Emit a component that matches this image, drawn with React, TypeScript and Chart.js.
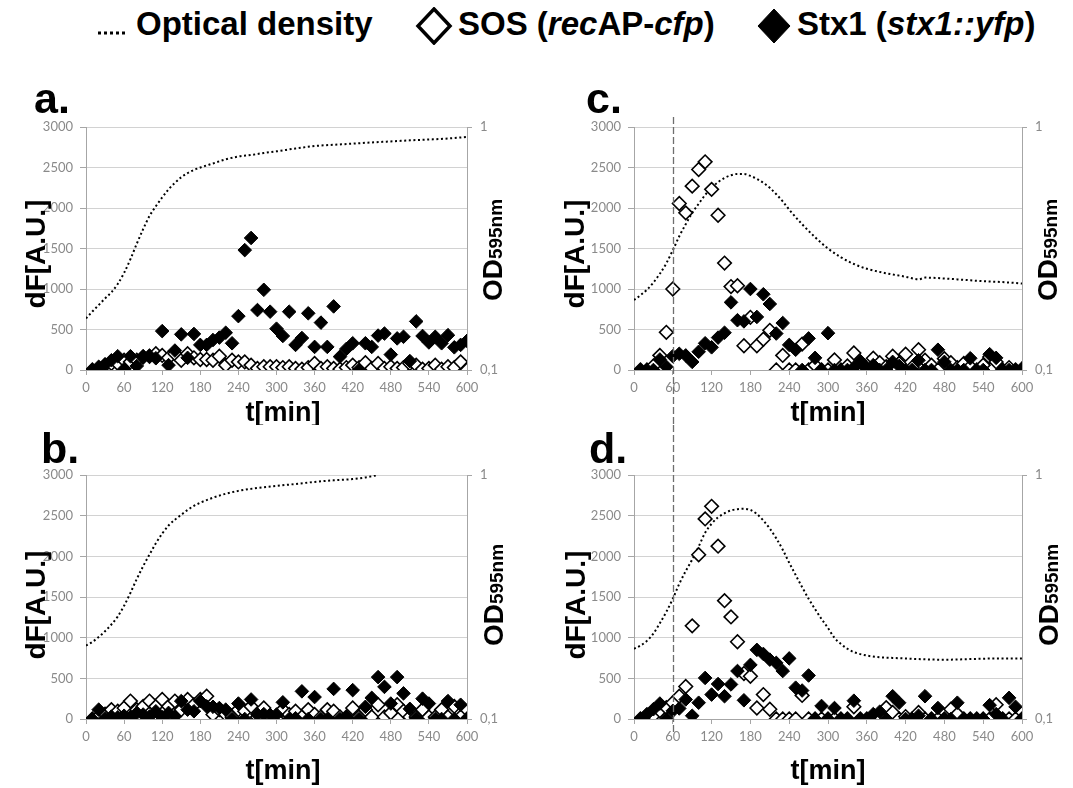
import React, { useEffect, useRef } from 'react';
import { Chart, registerables } from 'chart.js';

Chart.register(...registerables);

// ---------- data ----------
const TIME = [10, 20, 30, 40, 50, 60, 70, 80, 90, 100, 110, 120, 130, 140, 150, 160, 170, 180, 190, 200,
  210, 220, 230, 240, 250, 260, 270, 280, 290, 300, 310, 320, 330, 340, 350, 360, 370, 380, 390, 400,
  410, 420, 430, 440, 450, 460, 470, 480, 490, 500, 510, 520, 530, 540, 550, 560, 570, 580, 590, 600];

const A_STX = [0, 40, 70, 120, 170, 10, 170, 50, 170, 175, 145, 480, 60, 240, 440, 150, 445, 310, 310, 370,
  400, 460, 330, 665, 1480, 1630, 740, 990, 720, 510, 420, 720, 310, 395, 700, 285, 585, 285, 785, 165,
  260, 330, 0, 330, 285, 425, 450, 190, 390, 410, 110, 600, 420, 340, 410, 330, 430, 280, 310, 360];
const A_SOS = [0, 20, 60, 80, 80, 120, 100, 120, 160, 170, 200, 180, 150, 200, 120, 200, 150, 130, 130, 120,
  170, 60, 120, 100, 100, 60, 20, 40, 40, 40, 30, 40, 20, 10, 30, 80, 20, 40, 20, 10,
  30, 60, 30, 90, 20, 80, 20, 40, 20, 30, 80, 60, 10, 20, 60, 10, 40, 30, 100, 0];
const A_OD_T = [0, 10, 20, 30, 40, 50, 60, 70, 80, 90, 100, 110, 120, 130, 140, 150, 160, 170, 180, 200,
  220, 240, 260, 280, 300, 330, 360, 390, 420, 450, 480, 510, 540, 570, 600];
const A_OD = [0.163, 0.174, 0.185, 0.197, 0.209, 0.226, 0.251, 0.286, 0.331, 0.380, 0.430, 0.472, 0.513, 0.554,
  0.589, 0.621, 0.646, 0.666, 0.681, 0.708, 0.736, 0.756, 0.767, 0.782, 0.794, 0.816, 0.835, 0.845, 0.854,
  0.864, 0.872, 0.881, 0.888, 0.897, 0.910];

const B_STX = [0, 115, 10, 30, 20, 40, 20, 75, 55, 30, 95, 20, 75, 30, 220, 115, 95, 220, 155, 150,
  135, 115, 0, 190, 0, 240, 55, 60, 50, 55, 205, 0, 10, 340, 0, 270, 0, 0, 370, 0,
  20, 355, 0, 150, 260, 515, 395, 190, 515, 315, 125, 10, 250, 190, 0, 0, 220, 0, 175, 0];
const B_SOS = [0, 30, 60, 115, 95, 135, 220, 115, 155, 220, 155, 240, 155, 220, 115, 240, 175, 240, 280, 55,
  115, 55, 25, 115, 95, 155, 25, 135, 25, 0, 115, 55, 95, 25, 115, 55, 25, 115, 95, 25,
  25, 135, 25, 115, 25, 175, 25, 75, 175, 95, 25, 25, 115, 25, 25, 115, 25, 155, 25, 0];
const B_OD_T = [0, 10, 20, 30, 40, 50, 60, 70, 80, 90, 100, 110, 120, 130, 140, 150, 160, 170, 180, 200,
  220, 240, 270, 300, 330, 360, 390, 420, 440, 460];
const B_OD = [0.200, 0.207, 0.217, 0.229, 0.244, 0.263, 0.291, 0.329, 0.375, 0.423, 0.472, 0.525, 0.575, 0.621,
  0.656, 0.687, 0.719, 0.747, 0.770, 0.807, 0.838, 0.861, 0.885, 0.902, 0.919, 0.937, 0.951, 0.962, 0.977, 1.0];

const C_STX = [0, 0, 0, 130, 40, 170, 200, 180, 100, 225, 330, 280, 400, 460, 835, 615, 600, 1000, 655, 935,
  815, 450, 580, 310, 250, 0, 390, 150, 0, 455, 0, 0, 0, 30, 110, 20, 60, 0, 0, 100,
  50, 0, 0, 120, 0, 0, 250, 100, 0, 0, 0, 145, 0, 0, 195, 150, 0, 0, 0, 20];
const C_SOS = [0, 0, 50, 180, 465, 1000, 2055, 1940, 2270, 2475, 2570, 2230, 1910, 1320, 1030, 1040, 300, 650, 300, 380,
  490, 0, 180, 0, 0, 320, 0, 60, 0, 0, 125, 0, 50, 210, 60, 20, 145, 90, 40, 170,
  80, 195, 30, 250, 120, 60, 0, 140, 90, 30, 80, 40, 0, 60, 160, 100, 0, 30, 0, 0];
const C_OD_T = [0, 10, 20, 30, 40, 50, 60, 70, 80, 90, 100, 110, 120, 130, 140, 150, 160, 170, 180, 190,
  200, 210, 220, 230, 240, 260, 280, 300, 320, 340, 360, 390, 420, 440, 450, 480, 510, 540, 570, 600];
const C_OD = [0.194, 0.203, 0.214, 0.229, 0.249, 0.275, 0.311, 0.355, 0.398, 0.443, 0.483, 0.525, 0.562, 0.593,
  0.617, 0.633, 0.641, 0.641, 0.629, 0.612, 0.589, 0.562, 0.529, 0.494, 0.457, 0.398, 0.352, 0.316, 0.291,
  0.273, 0.261, 0.250, 0.242, 0.236, 0.240, 0.238, 0.235, 0.232, 0.230, 0.227];

const D_STX = [0, 60, 120, 190, 0, 100, 130, 240, 40, 200, 505, 300, 430, 280, 425, 590, 230, 665, 850, 800,
  730, 690, 590, 745, 385, 350, 535, 0, 160, 0, 135, 0, 0, 225, 0, 0, 60, 90, 0, 280,
  200, 0, 0, 40, 280, 0, 135, 0, 0, 200, 0, 0, 0, 0, 170, 60, 0, 260, 150, 0];
const D_SOS = [0, 0, 40, 100, 140, 200, 280, 400, 1145, 2020, 2460, 2615, 2125, 1455, 1255, 950, 560, 525, 135, 300,
  120, 0, 0, 0, 0, 290, 0, 0, 0, 0, 0, 0, 0, 150, 0, 0, 0, 30, 140, 80,
  0, 30, 0, 80, 0, 0, 0, 0, 120, 60, 0, 0, 0, 0, 0, 175, 0, 0, 0, 0];
const D_OD_T = [0, 10, 20, 30, 40, 50, 60, 70, 80, 90, 100, 110, 120, 130, 140, 150, 160, 170, 180, 190,
  200, 210, 220, 230, 240, 250, 260, 270, 280, 290, 300, 310, 320, 330, 340, 360, 380, 400, 440, 480, 520, 560, 600];
const D_OD = [0.194, 0.200, 0.209, 0.224, 0.247, 0.275, 0.311, 0.358, 0.404, 0.450, 0.509, 0.580, 0.631, 0.671,
  0.697, 0.716, 0.724, 0.727, 0.719, 0.692, 0.651, 0.603, 0.550, 0.494, 0.437, 0.389, 0.347, 0.311, 0.282,
  0.257, 0.236, 0.215, 0.203, 0.194, 0.188, 0.182, 0.179, 0.178, 0.176, 0.175, 0.176, 0.177, 0.177];

const INDUCTION_T = 60;
const LEFT_TICKS_MAX = 3000;
const LEFT_STEP = 500;
const X_MAX = 600;
const X_STEP = 60;
const RIGHT_TICKS = [0.1, 1];
const RIGHT_LABELS = ['0,1', '1'];

// ---------- layout / style ----------
const FONT = '"Liberation Sans", Arial, Helvetica, sans-serif';
const TICK_FONT = 'Lato, "Liberation Sans", sans-serif';
const TICK_COLOR = '#8a8a8a';
const AXIS_COLOR = '#a6a6a6';
const GRID_COLOR = '#d2d2d2';
const MARK_R = 6.8;

type Panel = {
  letter: string; left: number; top: number; w: number; h: number;
  area: { l: number; r: number; t: number; b: number };
  sos: number[]; stx: number[]; odT: number[]; od: number[];
  txt: { lx: number; ly: number; yx: number; yy: number; rx: number; ry: number; xx: number; xy: number };
  dash: null | { y0: number; y1: number };
};

const PANELS: Panel[] = [
  { letter: 'a.', left: 0, top: 60, w: 540, h: 365, area: { l: 86, r: 467, t: 67, b: 310 },
    sos: A_SOS, stx: A_STX, odT: A_OD_T, od: A_OD,
    txt: { lx: 34, ly: 53, yx: 45, yy: 194, rx: 502, ry: 190, xx: 283, xy: 354 }, dash: null },
  { letter: 'b.', left: 0, top: 425, w: 540, h: 363, area: { l: 86, r: 467, t: 50, b: 294 },
    sos: B_SOS, stx: B_STX, odT: B_OD_T, od: B_OD,
    txt: { lx: 41, ly: 38, yx: 45, yy: 180, rx: 503, ry: 170, xx: 283, xy: 347 }, dash: null },
  { letter: 'c.', left: 540, top: 60, w: 533, h: 365, area: { l: 94, r: 482, t: 67, b: 310 },
    sos: C_SOS, stx: C_STX, odT: C_OD_T, od: C_OD,
    txt: { lx: 46, ly: 53, yx: 44, yy: 194, rx: 517, ry: 190, xx: 288, xy: 354 }, dash: { y0: 57, y1: 365 } },
  { letter: 'd.', left: 540, top: 425, w: 533, h: 363, area: { l: 94, r: 482, t: 50, b: 294 },
    sos: D_SOS, stx: D_STX, odT: D_OD_T, od: D_OD,
    txt: { lx: 49, ly: 38, yx: 45, yy: 180, rx: 518, ry: 170, xx: 288, xy: 347 }, dash: { y0: 0, y1: 310 } },
];

function PanelChart({ p }: { p: Panel }) {
  const ref = useRef<HTMLCanvasElement | null>(null);
  useEffect(() => {
    if (!ref.current) return;
    const pts = (ts: number[], vs: number[]) => ts.map((t, i) => ({ x: t, y: vs[i] }));
    const tickFont = { family: TICK_FONT, size: 13 };
    const deco = {
      id: 'deco',
      afterDraw(chart: any) {
        const ctx: CanvasRenderingContext2D = chart.ctx;
        ctx.save();
        ctx.fillStyle = '#000';
        if (p.dash) {
          const x = Math.round(chart.scales.x.getPixelForValue(INDUCTION_T)) + 0.5;
          ctx.save();
          ctx.strokeStyle = '#6e6e6e';
          ctx.lineWidth = 1.3;
          ctx.setLineDash([7, 3]);
          ctx.beginPath();
          ctx.moveTo(x, p.dash.y0);
          ctx.lineTo(x, p.dash.y1);
          ctx.stroke();
          ctx.restore();
        }
        ctx.font = `bold 43px ${FONT}`;
        ctx.textAlign = 'left';
        ctx.textBaseline = 'alphabetic';
        ctx.fillText(p.letter, p.txt.lx, p.txt.ly);
        ctx.font = `bold 27px ${FONT}`;
        ctx.textAlign = 'center';
        ctx.textBaseline = 'middle';
        ctx.fillText('t[min]', p.txt.xx, p.txt.xy);
        ctx.save();
        ctx.translate(p.txt.yx, p.txt.yy);
        ctx.rotate(-Math.PI / 2);
        ctx.font = `bold 28px ${FONT}`;
        ctx.textAlign = 'center';
        ctx.textBaseline = 'alphabetic';
        ctx.fillText('dF[A.U.]', 0, 0);
        ctx.restore();
        ctx.save();
        ctx.translate(p.txt.rx, p.txt.ry);
        ctx.rotate(-Math.PI / 2);
        ctx.textAlign = 'left';
        ctx.textBaseline = 'alphabetic';
        const big = `bold 28px ${FONT}`;
        const small = `bold 19px ${FONT}`;
        ctx.font = big;
        const w1 = ctx.measureText('OD').width;
        ctx.font = small;
        const w2 = ctx.measureText('595nm').width;
        const x0 = -(w1 + w2) / 2;
        ctx.font = big;
        ctx.fillText('OD', x0, 0);
        ctx.font = small;
        ctx.fillText('595nm', x0 + w1, 0);
        ctx.restore();
        ctx.restore();
      },
    };
    const chart = new Chart(ref.current, {
      type: 'scatter',
      data: {
        datasets: [
          {
            label: 'Stx1', data: pts(TIME, p.stx), yAxisID: 'y', order: 0,
            pointStyle: 'rectRot', pointRadius: MARK_R, backgroundColor: '#000', borderColor: '#000', borderWidth: 1,
          },
          {
            label: 'SOS', data: pts(TIME, p.sos), yAxisID: 'y', order: 1,
            pointStyle: 'rectRot', pointRadius: MARK_R, backgroundColor: '#fff', borderColor: '#000', borderWidth: 1.6,
          },
          {
            type: 'line', label: 'Optical density', data: pts(p.odT, p.od), yAxisID: 'y1', order: 2,
            borderColor: '#000', borderWidth: 2, borderDash: [2, 2.6], pointRadius: 0, fill: false,
            cubicInterpolationMode: 'monotone',
          } as any,
        ],
      },
      options: {
        responsive: false,
        animation: false,
        events: [],
        layout: { padding: { top: p.area.t, left: 0, right: 0, bottom: 0 } },
        plugins: { legend: { display: false }, tooltip: { enabled: false } },
        scales: {
          x: {
            type: 'linear', min: 0, max: X_MAX,
            ticks: {
              stepSize: X_STEP, font: tickFont, color: TICK_COLOR, padding: 5, maxRotation: 0, autoSkip: false,
              callback: (v: any) => String(v),
            },
            grid: { drawOnChartArea: false, drawTicks: true, tickLength: 5, tickColor: AXIS_COLOR },
            border: { color: AXIS_COLOR, width: 1 },
            afterFit: (s: any) => { s.height = p.h - p.area.b; },
          },
          y: {
            type: 'linear', position: 'left', min: 0, max: LEFT_TICKS_MAX,
            ticks: { stepSize: LEFT_STEP, font: tickFont, color: TICK_COLOR, padding: 7, callback: (v: any) => String(v) },
            grid: { color: GRID_COLOR, tickColor: AXIS_COLOR, tickLength: 6 },
            border: { color: AXIS_COLOR, width: 1 },
            afterFit: (s: any) => { s.width = p.area.l; },
          },
          y1: {
            type: 'logarithmic', position: 'right', min: 0.1, max: 1,
            afterBuildTicks: (s: any) => { s.ticks = RIGHT_TICKS.map((v) => ({ value: v })); },
            ticks: {
              font: tickFont, color: TICK_COLOR, padding: 8,
              callback: (v: any) => RIGHT_LABELS[RIGHT_TICKS.indexOf(Number(v))] ?? '',
            },
            grid: { drawOnChartArea: false, tickLength: 5, tickColor: AXIS_COLOR },
            border: { color: AXIS_COLOR, width: 1 },
            afterFit: (s: any) => { s.width = p.w - p.area.r; },
          },
        },
      } as any,
      plugins: [deco],
    });
    return () => chart.destroy();
  }, [p]);
  return (
    <canvas
      ref={ref}
      width={p.w}
      height={p.h}
      style={{ position: 'absolute', left: p.left, top: p.top, width: p.w, height: p.h }}
    />
  );
}

function Legend() {
  const textStyle: React.CSSProperties = {
    position: 'absolute', top: 7, font: `bold 33px ${FONT}`, lineHeight: '33px', whiteSpace: 'nowrap', color: '#000',
  };
  return (
    <div style={{ position: 'absolute', left: 0, top: 0, width: 1073, height: 60 }}>
      <svg style={{ position: 'absolute', left: 96, top: 30 }} width={32} height={6}>
        <line x1={2} y1={3} x2={30} y2={3} stroke="#000" strokeWidth={3} strokeDasharray="3 3" />
      </svg>
      <span style={{ ...textStyle, left: 136 }}>Optical density</span>
      <svg style={{ position: 'absolute', left: 415, top: 7 }} width={38} height={38}>
        <polygon points="19,2 35,19 19,36 3,19" fill="#fff" stroke="#000" strokeWidth={3.5} />
      </svg>
      <span style={{ ...textStyle, left: 458 }}>SOS (<i>rec</i>AP-<i>cfp</i>)</span>
      <svg style={{ position: 'absolute', left: 755, top: 7 }} width={38} height={38}>
        <polygon points="19,2 35,19 19,36 3,19" fill="#000" stroke="#000" strokeWidth={1} />
      </svg>
      <span style={{ ...textStyle, left: 797 }}>Stx1 (<i>stx1::yfp</i>)</span>
    </div>
  );
}

export default function App() {
  return (
    <div style={{ position: 'absolute', left: 0, top: 0, width: 1073, height: 788, background: '#fff', overflow: 'hidden' }}>
      <Legend />
      {PANELS.map((p) => (
        <PanelChart key={p.letter} p={p} />
      ))}
    </div>
  );
}
